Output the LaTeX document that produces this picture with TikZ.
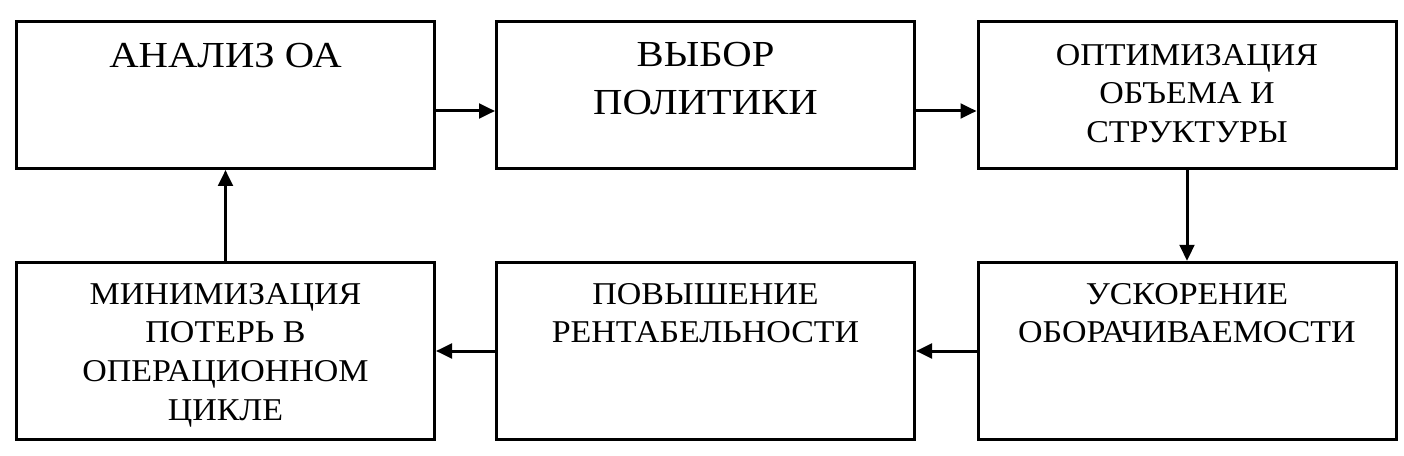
\documentclass[tikz,border=0pt]{standalone}
\usepackage{fontspec}
\setmainfont[FakeStretch=1.07]{Liberation Serif}
\newfontfamily\widefont[FakeStretch=1.11]{Liberation Serif}
\usetikzlibrary{arrows.meta,calc}
\tikzset{>={Triangle[length=12pt,width=11pt]}}
\tikzset{
    block/.style={draw, line width=2.25pt, minimum width=313.5pt, inner sep=0pt},
    toprow/.style={block, minimum height=110.25pt},
    botrow/.style={block, minimum height=133pt},
    bigtext/.style={font=\widefont\fontsize{27.5pt}{36pt}\selectfont, align=center, inner sep=0pt},
    smalltext/.style={font=\fontsize{23.8pt}{29pt}\selectfont, align=center, inner sep=0pt},
    flow/.style={->, line width=2.25pt},
}

\begin{document}
\begin{tikzpicture}[x=0.75pt, y=-0.75pt]
    \useasboundingbox (0,0) rectangle (1404,456);

    % top row
    \node[toprow, label={[bigtext, anchor=north, yshift=-17.5pt]north:АНАЛИЗ ОА}] (analiz) at (225.5,95) {};
    \node[toprow, label={[bigtext, anchor=north, yshift=-16.5pt]north:ВЫБОР\\ПОЛИТИКИ}] (vybor) at (705.5,95) {};
    \node[toprow, label={[smalltext, anchor=north, yshift=-18pt]north:ОПТИМИЗАЦИЯ\\ОБЪЕМА И\\СТРУКТУРЫ}] (optim) at (1187,95) {};

    % bottom row
    \node[botrow, label={[smalltext, anchor=north, yshift=-16.5pt]north:УСКОРЕНИЕ\\ОБОРАЧИВАЕМОСТИ}] (uskor) at (1187,351) {};
    \node[botrow, label={[smalltext, anchor=north, yshift=-16.5pt]north:ПОВЫШЕНИЕ\\РЕНТАБЕЛЬНОСТИ}] (povysh) at (705.5,351) {};
    \node[botrow, label={[smalltext, anchor=north, yshift=-16.5pt]north:МИНИМИЗАЦИЯ\\ПОТЕРЬ В\\ОПЕРАЦИОННОМ\\ЦИКЛЕ}] (minim) at (225.5,351) {};

    % arrows
    \draw[flow] ([yshift=-12pt]analiz.east) -- ([yshift=-12pt]vybor.west);
    \draw[flow] ([yshift=-12pt]vybor.east) -- ([yshift=-12pt]optim.west);
    \draw[flow] (optim.south) -- (uskor.north);
    \draw[flow] (uskor.west) -- (povysh.east);
    \draw[flow] (povysh.west) -- (minim.east);
    \draw[flow] (minim.north) -- (analiz.south);
\end{tikzpicture}
\end{document}
